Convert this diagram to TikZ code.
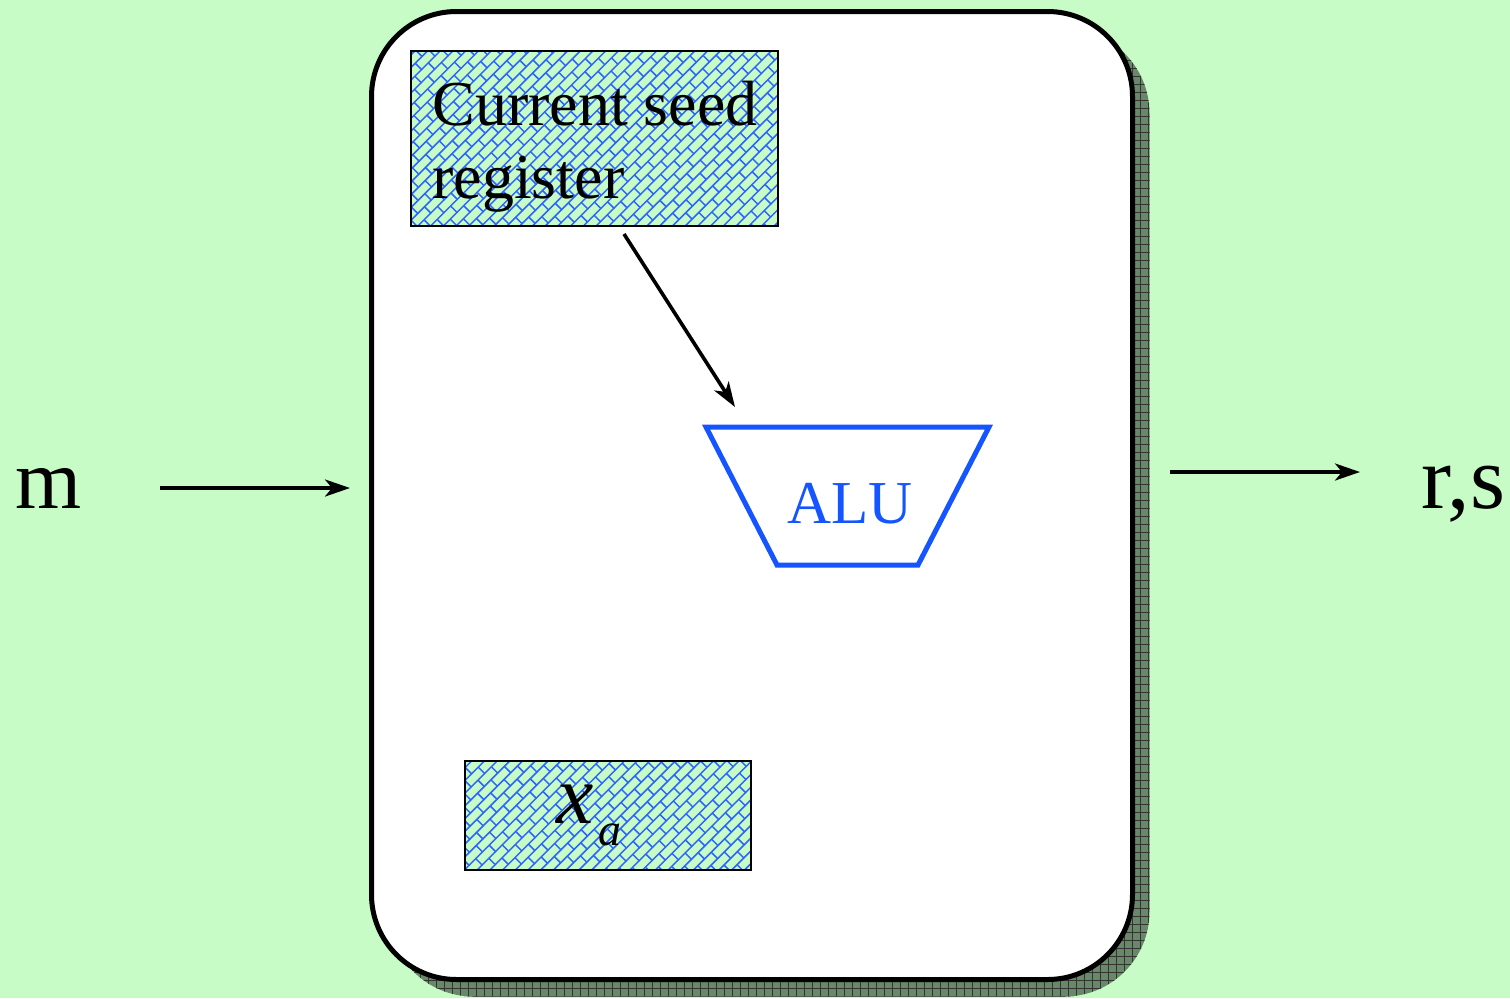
\documentclass[tikz,border=0pt]{standalone}
\usepackage{fontspec}
\setmainfont{Liberation Serif}
\usetikzlibrary{arrows.meta}
\definecolor{bg}{RGB}{200,252,198}
\definecolor{hatchbg}{RGB}{200,252,198}
\definecolor{hatchc}{RGB}{45,100,255}
\definecolor{alublue}{RGB}{20,85,255}
\definecolor{shadowc}{RGB}{105,135,105}
\newcommand\brickhatch[1]{%
  \begin{scope}[shift={(path picture bounding box.center)},
                x={(0.35355pt,0.35355pt)}, y={(0.35355pt,-0.35355pt)},
                hatchc, line width=0.75pt]
    \foreach \v [count=\i] in {-#1,-\the\numexpr #1-9\relax,...,#1} {
      \draw (-#1,\v) -- (#1,\v);
      \pgfmathsetmacro\off{mod(\i,2)*9.5}
      \foreach \u in {-#1,-\the\numexpr #1-19\relax,...,#1} {
        \draw (\u+\off,\v) -- (\u+\off,\v+9.5);
      }
    }
  \end{scope}}
\tikzset{
  arr/.style={line width=1.8pt, -{Stealth[length=12.5pt,width=8.5pt,inset=3.5pt]}},
  regbox/.style={draw=black, line width=1pt, fill=hatchbg, inner sep=0pt},
  lbl/.style={inner sep=0pt, anchor=base west},
  mainbox/.style={draw=black, line width=2.5pt, fill=white, rounded corners=42.5pt, inner sep=0pt}
}
\begin{document}
\begin{tikzpicture}[x=0.5pt,y=-0.5pt]
\fill[bg] (0,0) rectangle (1510,998);
\useasboundingbox (0,0) rectangle (1510,998);
% shadow of main box
\begin{scope}
  \clip[rounded corners=42.5pt] (388.5,28.5) rectangle (1149.5,996.5);
  \fill[shadowc] (388.5,28.5) rectangle (1149.5,996.5);
  \foreach \x in {388,396,...,1150} \draw[black!80,line width=0.4pt] (\x,28) -- (\x,998);
  \foreach \y in {28,36,...,998} \draw[black!80,line width=0.4pt] (388,\y) -- (1150,\y);
\end{scope}
% main box
\node[mainbox, minimum width=380.5pt, minimum height=484pt] (main) at (752,495.5) {};
% registers
\node[regbox, minimum width=183.5pt, minimum height=87.5pt,
      path picture={\brickhatch{216}}] (reg) at (594.5,138.5) {};
\node[lbl, font=\fontsize{32}{38}\selectfont] (reg1) at (432,125) {Current seed};
\node[lbl, font=\fontsize{32}{38}\selectfont] (reg2) at (432,198) {register};
\node[regbox, minimum width=143pt, minimum height=54.5pt,
      path picture={\brickhatch{162}}] (xa) at (608,815.5) {};
\node[lbl, font=\fontsize{42}{50}\selectfont\itshape] (xlbl) at (556,823) {x};
\node[lbl, font=\fontsize{23}{28}\selectfont\itshape] (albl) at (598,845) {a};
% ALU
\coordinate (t1) at (706,427);
\coordinate (t2) at (989,427);
\coordinate (t3) at (918,565);
\coordinate (t4) at (777,565);
\draw[alublue, line width=2.5pt, line join=miter] (t1) -- (t2) -- (t3) -- (t4) -- cycle;
\node[lbl, text=alublue, font=\fontsize{30.5}{36}\selectfont] (alu) at (787,523) {ALU};
% in / out
\node[lbl, font=\fontsize{42.5}{50}\selectfont] (m) at (15,508) {m};
\node[lbl, font=\fontsize{45}{54}\selectfont] (rs) at (1421,508) {r,s};
\coordinate (min) at (160,488);
\draw[arr] (min) -- ([xshift=-9.5pt]main.west |- min);
\coordinate (rsin) at (1360,472);
\draw[arr] ([xshift=17.5pt]main.east |- rsin) -- (rsin);
\coordinate (aluin) at (735,407);
\draw[arr] ([shift={(29.5,7)}]reg.south) -- (aluin);
\end{tikzpicture}
\end{document}
